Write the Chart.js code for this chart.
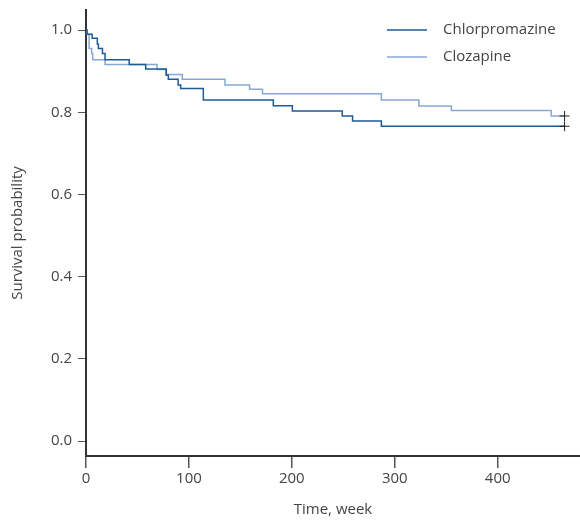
<!DOCTYPE html>
<html>
<head>
<meta charset="utf-8">
<script src="https://cdn.jsdelivr.net/npm/chart.js@4/dist/chart.umd.min.js"></script>
<style>
  html, body { margin: 0; padding: 0; background: #fff; }
  #wrap { width: 580px; height: 523px; }
</style>
</head>
<body>
<div id="wrap"><canvas id="km" width="580" height="523"></canvas></div>
<script>
// Kaplan-Meier steps: value holds from each time onward
const seriesNames = ['Chlorpromazine', 'Clozapine'];
const chlorTimes = [0, 1, 6, 11, 12, 16, 18.5, 42, 58, 78, 80, 89.5, 92, 114, 182, 200.5, 249, 259, 287, 465];
const chlorSurv  = [1.0, 0.99, 0.98, 0.966, 0.955, 0.943, 0.928, 0.916, 0.905, 0.89, 0.88, 0.866, 0.858, 0.83, 0.816, 0.803, 0.791, 0.779, 0.766, 0.766];
const clozTimes  = [0, 1, 3, 5.5, 6.5, 18.5, 69, 77.7, 93.5, 135, 159, 171.5, 287, 323.5, 355, 452, 465];
const clozSurv   = [1.0, 0.99, 0.955, 0.943, 0.928, 0.916, 0.904, 0.892, 0.88, 0.866, 0.856, 0.845, 0.83, 0.815, 0.804, 0.791, 0.791];
const xTicks = [0, 100, 200, 300, 400];
const yTicks = [0, 0.2, 0.4, 0.6, 0.8, 1.0];

const DARK = '#1d5a98';
const LIGHT = '#86a8d6';
const TEXT = '#444';
const FONT = "'Open Sans', 'DejaVu Sans', sans-serif";

const pts = (ts, ss) => ts.map((t, i) => ({ x: t, y: ss[i] }));
// censor mark only on the last point
const lastOnly = (arr, r) => arr.map((_, i) => i === arr.length - 1 ? r : 0);

const legendLines = {
  id: 'legendLines',
  afterDraw(chart) {
    const ctx = chart.ctx;
    const items = [[seriesNames[0], DARK, 30], [seriesNames[1], LIGHT, 57]];
    ctx.save();
    ctx.font = '15px ' + FONT;
    ctx.textBaseline = 'middle';
    ctx.fillStyle = TEXT;
    items.forEach(([name, col, y]) => {
      ctx.strokeStyle = col;
      ctx.lineWidth = 1.5;
      ctx.beginPath();
      ctx.moveTo(387, y);
      ctx.lineTo(427, y);
      ctx.stroke();
      ctx.fillText(name, 443, y);
    });
    ctx.restore();
  }
};

new Chart(document.getElementById('km'), {
  type: 'line',
  data: {
    datasets: [
      {
        label: seriesNames[0],
        data: pts(chlorTimes, chlorSurv),
        borderColor: DARK,
        borderWidth: 1.5,
        stepped: true,
        fill: false,
        pointStyle: 'cross',
        pointRadius: lastOnly(chlorTimes, 5),
        pointBorderColor: '#222',
        pointBorderWidth: 1,
        clip: false
      },
      {
        label: seriesNames[1],
        data: pts(clozTimes, clozSurv),
        borderColor: LIGHT,
        borderWidth: 1.5,
        stepped: true,
        fill: false,
        pointStyle: 'cross',
        pointRadius: lastOnly(clozTimes, 5),
        pointBorderColor: '#222',
        pointBorderWidth: 1,
        clip: false
      }
    ]
  },
  options: {
    responsive: false,
    animation: false,
    layout: { autoPadding: false, padding: { top: 10, right: 0, left: 0, bottom: 0 } },
    plugins: {
      legend: { display: false },
      tooltip: { enabled: false }
    },
    scales: {
      x: {
        type: 'linear',
        min: 0,
        max: 480,
        afterBuildTicks: s => { s.ticks = xTicks.map(v => ({ value: v })); },
        afterFit: s => { s.height = 67; s.paddingLeft = 0; s.paddingRight = 0; },
        ticks: { color: TEXT, font: { family: FONT, size: 15 }, padding: 2, maxRotation: 0 },
        grid: { display: true, drawOnChartArea: false, drawTicks: true, tickLength: 12, color: '#555', lineWidth: 1.5 },
        border: { display: true, color: '#333', width: 2 },
        title: { display: true, text: 'Time, week', color: TEXT, font: { family: FONT, size: 15 }, padding: { top: 0, bottom: 4 } }
      },
      y: {
        min: -0.036,
        max: 1.0487,
        afterBuildTicks: s => { s.ticks = yTicks.map(v => ({ value: v })); },
        afterFit: s => { s.width = 86; s.paddingTop = 0; s.paddingBottom = 0; },
        ticks: { color: TEXT, font: { family: FONT, size: 15 }, padding: 6, callback: v => v.toFixed(1) },
        grid: { display: true, drawOnChartArea: false, drawTicks: true, tickLength: 8, color: '#555', lineWidth: 1 },
        border: { display: true, color: '#333', width: 2 },
        title: { display: true, text: 'Survival probability', color: TEXT, font: { family: FONT, size: 15 }, padding: { top: 9, bottom: 0 } }
      }
    }
  },
  plugins: [legendLines]
});
</script>
</body>
</html>
